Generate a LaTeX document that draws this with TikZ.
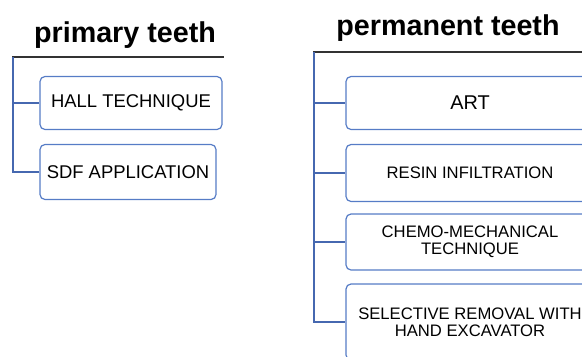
\documentclass[tikz,border=0pt]{standalone}
\usepackage{fontspec}
\setmainfont{Liberation Sans}
\usepackage{xcolor}
\usetikzlibrary{positioning}

\definecolor{boxblue}{RGB}{86,124,198}
\definecolor{linkblue}{RGB}{70,104,176}

\begin{document}
\begin{tikzpicture}[x=1bp, y=-1bp,
    head/.style={anchor=base, font=\bfseries\fontsize{28.8}{30}\selectfont, inner sep=0pt},
    rule/.style={line width=1.8pt, black!80},
    item/.style={draw=boxblue, fill=white, rounded corners=5pt, line width=1.2pt, align=center, inner sep=0pt},
    conn/.style={draw=linkblue, line width=1.4pt}
]
    \useasboundingbox (0,0) rectangle (582,356);
    \clip (0,0) rectangle (582,356);

    % Left column - primary teeth
    \node[head] (ptitle) at (125,42) {primary teeth};
    \coordinate (pleft) at (12,57);
    \coordinate (pright) at (224,57);
    \coordinate (pspine) at (13,57);
    \draw[rule] (pleft) -- (pright);

    \node[item, minimum width=182bp, minimum height=53bp, font=\fontsize{18.5}{20}\selectfont] (hall) at (131,103) {HALL TECHNIQUE};
    \node[item, minimum width=176bp, minimum height=55bp, font=\fontsize{18.5}{20}\selectfont] (sdf) at (128,172) {SDF APPLICATION};

    \draw[conn] (pspine) |- (hall.west);
    \draw[conn] (pspine) |- (sdf.west);

    % Right column - permanent teeth
    \node[head] (ktitle) at (448,35) {permanent teeth};
    \coordinate (kleft) at (313,52);
    \coordinate (kright) at (590,52);
    \coordinate (kspine) at (314,52);
    \draw[rule] (kleft) -- (kright);

    \node[item, minimum width=248bp, minimum height=53bp, font=\fontsize{20}{22}\selectfont] (art) at (470,103) {ART};
    \node[item, minimum width=248bp, minimum height=57bp, font=\fontsize{16.7}{17}\selectfont] (resin) at (470,173) {RESIN INFILTRATION};
    \node[item, minimum width=248bp, minimum height=56bp, font=\fontsize{16.7}{17}\selectfont] (chemo) at (470,242) {CHEMO-MECHANICAL\\TECHNIQUE};
    \node[item, minimum width=248bp, minimum height=76bp, font=\fontsize{16.7}{17}\selectfont] (hand) at (470,322) {SELECTIVE REMOVAL WITH\\HAND EXCAVATOR};

    \foreach \b in {art,resin,chemo,hand}
        \draw[conn] (kspine) |- (\b.west);
\end{tikzpicture}
\end{document}
